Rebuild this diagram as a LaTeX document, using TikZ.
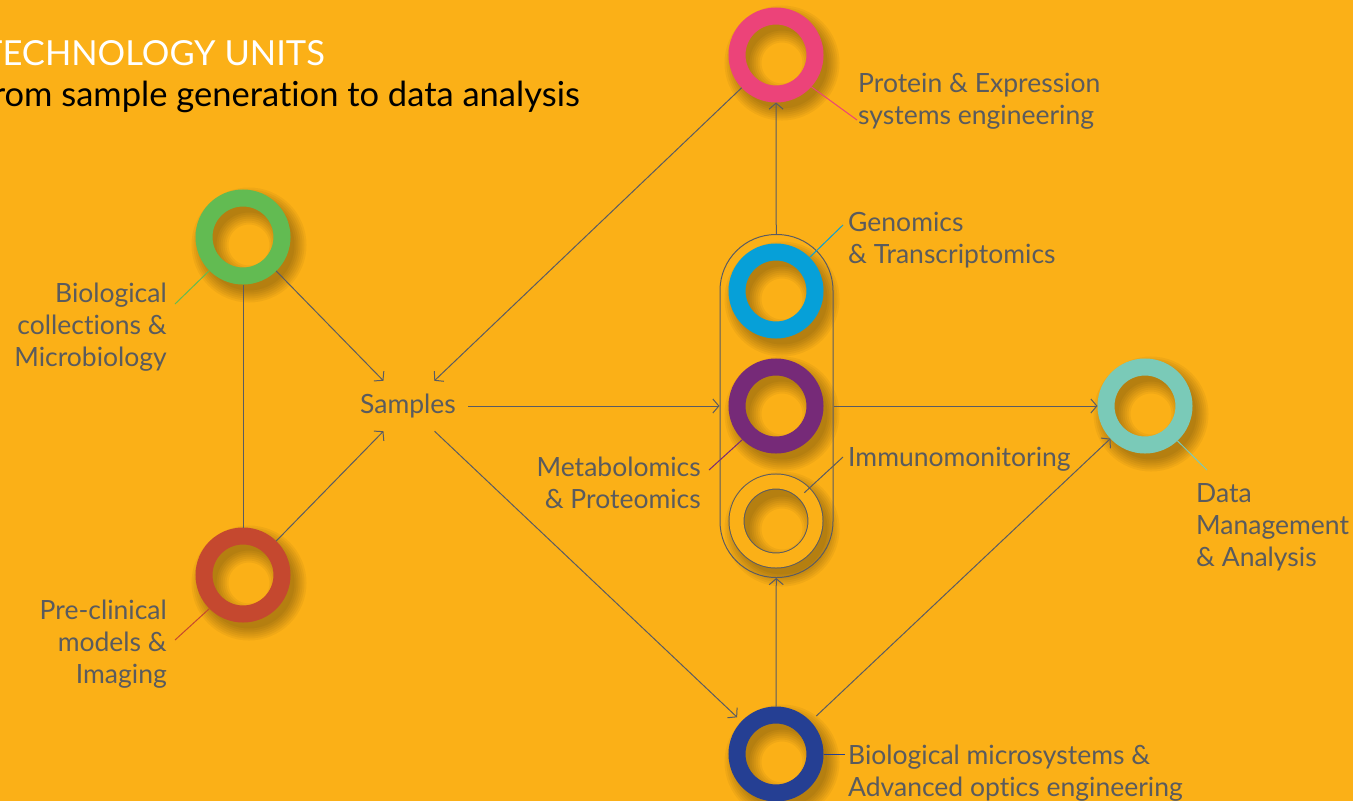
\documentclass[tikz,border=0pt]{standalone}
\usepackage{fontspec}
\setmainfont{Lato}[Ligatures=NoCommon]
\usetikzlibrary{arrows.meta}
\definecolor{bgorange}{HTML}{FBB017}
\definecolor{txtgray}{HTML}{5A5B5E}
\definecolor{linegray}{HTML}{5A5B62}
\definecolor{cpink}{HTML}{EC4379}
\definecolor{cblue}{HTML}{06A0D8}
\definecolor{cpurple}{HTML}{762A78}
\definecolor{cgreen}{HTML}{62BB52}
\definecolor{cred}{HTML}{C5482F}
\definecolor{cteal}{HTML}{7ACAB8}
\definecolor{cnavy}{HTML}{253F93}
\tikzset{
	ring/.style={circle,draw=#1,line width=17pt,minimum size=78pt,inner sep=0pt},
	lbl/.style={font=\fontsize{26.5}{32}\selectfont,text=txtgray,inner sep=0pt},
	arr/.style={draw=linegray,line width=1pt,-{Straight Barb[length=6pt,width=14pt]}},
	lead/.style={draw=#1,line width=1pt},
}
\begin{document}
\begin{tikzpicture}[x=1pt,y=-1pt]
				\useasboundingbox (0,0) rectangle (1353,801);
				\fill[bgorange] (0,0) rectangle (1353,801);
				\clip (0,0) rectangle (1353,801);
				\foreach \x/\y in {776/55,776/291,776/406,776/521,243/237,243/575,1145/406,776/754}{
					\foreach \w in {37,33,29,25,21,17,13}
						\draw[black,opacity=.045,line width=\w pt] (\x+6,\y+8) circle (39);
				};
				\node[draw=linegray,line width=1pt,rounded corners=56pt,minimum width=113pt,minimum height=343pt,inner sep=0pt] (caps) at (776.5,406) {};
				\node[ring=cpink] (prot) at (776,55) {};
				\node[ring=cblue] (geno) at (776,291) {};
				\node[ring=cpurple] (meta) at (776,406) {};
				\node[circle,draw=linegray,line width=1pt,double=bgorange,double distance=14pt,minimum size=79pt,inner sep=0pt] (immu) at (776,521) {};
				\node[ring=cgreen] (bio) at (243,237) {};
				\node[ring=cred] (prec) at (243,575) {};
				\node[ring=cteal] (data) at (1145,406) {};
				\node[ring=cnavy] (micro) at (776,754) {};
				\node[lbl,minimum width=120pt,minimum height=50pt] (samp) at (408,406) {Samples};
				\draw[lead=linegray] (bio) -- (prec);
				\draw[arr] (bio) -- (samp);
				\draw[arr] (prec) -- (samp);
				\draw[arr] (prot) -- (samp);
				\draw[arr] (samp) -- (caps);
				\draw[arr,shorten >=6pt] (samp) -- (micro);
				\draw[arr] (caps) -- (prot);
				\draw[arr] (micro) -- (caps);
				\draw[arr] (caps) -- (data);
				\draw[arr,shorten <=8pt] (micro) -- (data);
				\coordinate (protend) at (857,120);
				\coordinate (genoend) at (843,225);
				\coordinate (metaend) at (709,470);
				\coordinate (immuend) at (843,457);
				\coordinate (dataend) at (1207,470);
				\coordinate (microend) at (845,754);
				\coordinate (bioend) at (175,304);
				\coordinate (precend) at (175,640);
				\draw[lead=cpink] (prot.-42) -- (protend);
				\draw[lead=cblue] (geno.45) -- (genoend);
				\draw[lead=cpurple] (meta.-135) -- (metaend);
				\draw[lead=linegray] (immu.45) -- (immuend);
				\draw[lead=cteal] (data.-47) -- (dataend);
				\draw[lead=cnavy] (micro.east) -- (microend);
				\draw[lead=cgreen] (bio.-135) -- (bioend);
				\draw[lead=cred] (prec.-135) -- (precend);
				\node[lbl,anchor=base west,align=left] (protlab) at (858,124) {Protein \& Expression\\systems engineering};
				\node[lbl,anchor=base west,align=left] (genolab) at (848,263) {Genomics\\\& Transcriptomics};
				\node[lbl,anchor=base east,align=right] (metalab) at (701,508) {Metabolomics\\\& Proteomics};
				\node[lbl,anchor=base west,align=left] (immulab) at (848,466) {Immunomonitoring};
				\node[lbl,anchor=base west,align=left] (datalab) at (1196,566) {Data\\Management\\\& Analysis};
				\node[lbl,anchor=base west,align=left] (microlab) at (848,796) {Biological microsystems \&\\Advanced optics engineering};
				\node[lbl,anchor=base east,align=right] (biolab) at (167,366) {Biological\\collections \&\\Microbiology};
				\node[lbl,anchor=base east,align=right] (preclab) at (167,683) {Pre-clinical\\models \&\\Imaging};
				\node[anchor=base east,inner sep=0pt,text=white,font=\fontsize{34.5}{40}\selectfont] (title) at (325,65) {TECHNOLOGY UNITS};
				\node[anchor=base east,inner sep=0pt,text=black,font=\fontsize{34.5}{40}\selectfont] (subtitle) at (580,106) {from sample generation to data analysis};
			\end{tikzpicture}
\end{document}
